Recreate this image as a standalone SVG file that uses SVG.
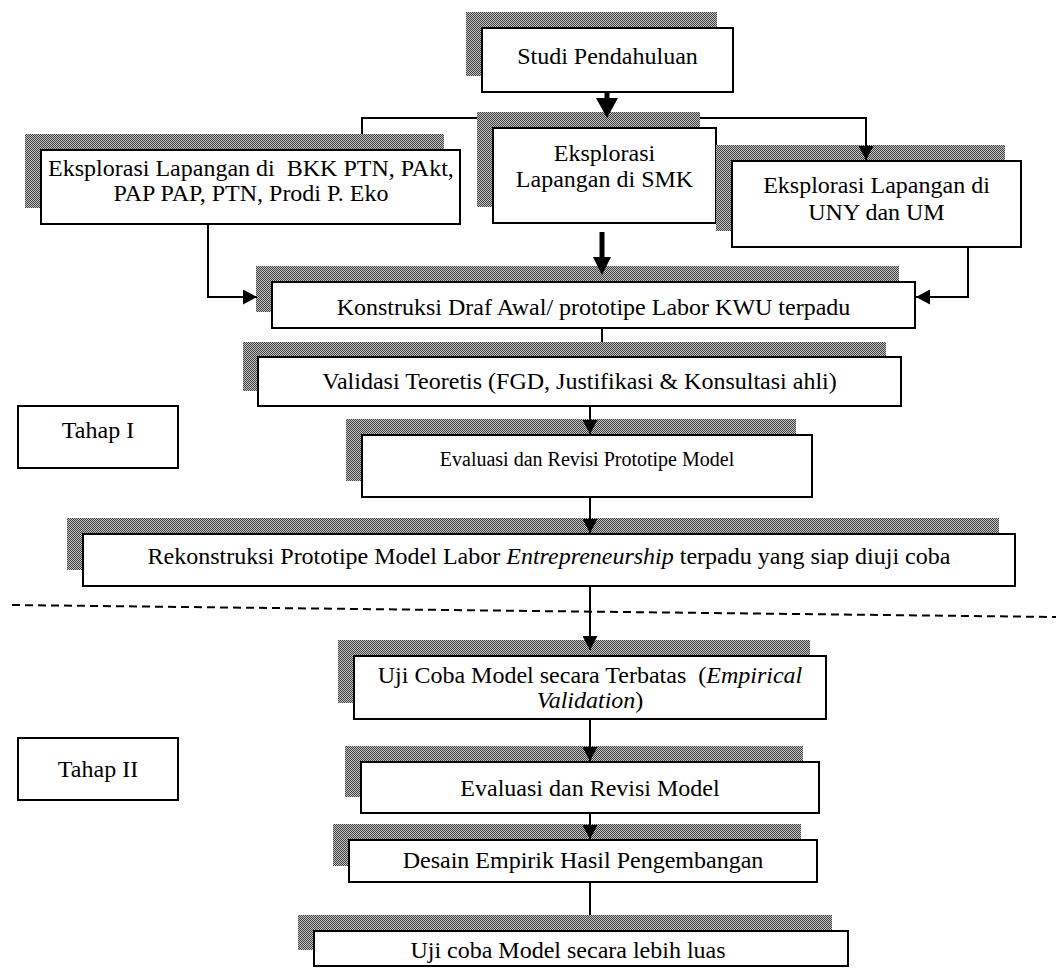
<svg xmlns="http://www.w3.org/2000/svg" width="1058" height="969" viewBox="0 0 1058 969">
<defs>
<pattern id="dots" width="2" height="2" patternUnits="userSpaceOnUse">
<rect width="2" height="2" fill="#c4c4c4"/>
<rect width="1" height="1" fill="#404040"/>
<rect x="1" y="1" width="1" height="1" fill="#404040"/>
</pattern>
<marker id="ah" markerUnits="userSpaceOnUse" markerWidth="15" markerHeight="15" refX="14" refY="7.5" orient="auto">
<path d="M0,0 L14,7.5 L0,15 Z" fill="#000"/>
</marker>
</defs>
<style>
.sh{fill:url(#dots);}
.bx{fill:#fff;stroke:#000;stroke-width:2;}
.t{font-family:"Liberation Serif","Times New Roman",serif;font-size:24px;fill:#000;text-anchor:middle;white-space:pre;}
.s{font-size:20px;}
.ln{fill:none;stroke:#000;stroke-width:2;}
.dash{fill:none;stroke:#000;stroke-width:2;stroke-dasharray:8 5;}
</style>
<rect width="1058" height="969" fill="#fff"/>

<g id="studi">
<rect class="sh" x="466" y="12" width="251" height="64"/>
<rect class="bx" x="482" y="28" width="251" height="64"/>
<text class="t" x="607.5" y="64">Studi Pendahuluan</text>
</g>

<g id="eks-bkk">
<rect class="sh" x="25" y="134" width="419" height="74"/>
<rect class="bx" x="41" y="150" width="419" height="74"/>
<text class="t" x="251" y="176">Eksplorasi Lapangan di  BKK PTN, PAkt,</text>
<text class="t" x="251" y="201">PAP PAP, PTN, Prodi P. Eko</text>
</g>

<g id="eks-smk">
<rect class="sh" x="477" y="112" width="223" height="95"/>
<rect class="bx" x="493" y="128" width="223" height="95"/>
<text class="t" x="604.5" y="161">Eksplorasi</text>
<text class="t" x="604.5" y="187">Lapangan di SMK</text>
</g>

<g id="eks-uny">
<rect class="sh" x="716" y="145" width="289" height="86"/>
<rect class="bx" x="732" y="161" width="289" height="86"/>
<text class="t" x="876.5" y="193">Eksplorasi Lapangan di</text>
<text class="t" x="876.5" y="220">UNY dan UM</text>
</g>

<g id="konstruksi">
<rect class="sh" x="256" y="266" width="643" height="46"/>
<rect class="bx" x="272" y="282" width="643" height="46"/>
<text class="t" x="593.5" y="315">Konstruksi Draf Awal/ prototipe Labor KWU terpadu</text>
</g>

<g id="validasi">
<rect class="sh" x="243" y="342" width="643" height="49"/>
<rect class="bx" x="258" y="357" width="643" height="49"/>
<text class="t" x="579.5" y="389">Validasi Teoretis (FGD, Justifikasi &amp; Konsultasi ahli)</text>
</g>

<g id="tahap1">
<rect class="bx" x="18" y="406" width="160" height="62"/>
<text class="t" x="98" y="438">Tahap I</text>
</g>

<g id="evaluasi-proto">
<rect class="sh" x="346" y="419" width="450" height="62"/>
<rect class="bx" x="362" y="435" width="450" height="62"/>
<text class="t s" x="587" y="466">Evaluasi dan Revisi Prototipe Model</text>
</g>

<g id="rekonstruksi">
<rect class="sh" x="67" y="518" width="932" height="52"/>
<rect class="bx" x="83" y="534" width="932" height="52"/>
<text class="t" x="549" y="564">Rekonstruksi Prototipe Model Labor <tspan font-style="italic">Entrepreneurship</tspan> terpadu yang siap diuji coba</text>
</g>

<g id="uji-terbatas">
<rect class="sh" x="338" y="640" width="472" height="63"/>
<rect class="bx" x="354" y="656" width="472" height="63"/>
<text class="t" x="590" y="683">Uji Coba Model secara Terbatas  (<tspan font-style="italic">Empirical</tspan></text>
<text class="t" x="590" y="708"><tspan font-style="italic">Validation</tspan>)</text>
</g>

<g id="evaluasi-model">
<rect class="sh" x="345" y="746" width="458" height="51"/>
<rect class="bx" x="361" y="762" width="458" height="51"/>
<text class="t" x="590" y="796">Evaluasi dan Revisi Model</text>
</g>

<g id="tahap2">
<rect class="bx" x="18" y="738" width="160" height="62"/>
<text class="t" x="98" y="777">Tahap II</text>
</g>

<g id="desain">
<rect class="sh" x="333" y="824" width="468" height="42"/>
<rect class="bx" x="349" y="840" width="468" height="42"/>
<text class="t" x="583" y="868">Desain Empirik Hasil Pengembangan</text>
</g>

<g id="uji-luas">
<rect class="sh" x="298" y="915" width="534" height="35"/>
<rect class="bx" x="314" y="931" width="534" height="35"/>
<text class="t" x="568" y="958">Uji coba Model secara lebih luas</text>
</g>

<g id="connectors">
<rect x="604.5" y="92" width="5" height="7" fill="#000"/>
<polygon points="596,98 618,98 607,118" fill="#000"/>
<path class="ln" d="M362,134 V118 H477"/>
<path class="ln" d="M700,118 H866 V160" marker-end="url(#ah)"/>
<path class="ln" d="M208,224 V297 H257" marker-end="url(#ah)"/>
<path class="ln" d="M968,247 V297 H916" marker-end="url(#ah)"/>
<rect x="599.5" y="232" width="5" height="26" fill="#000"/>
<polygon points="593,257 611,257 602,275" fill="#000"/>
<path class="ln" d="M602,328 V342"/>
<path class="ln" d="M590,406 V434" marker-end="url(#ah)"/>
<path class="ln" d="M590,497 V533" marker-end="url(#ah)"/>
<path class="ln" d="M590,586 V650" marker-end="url(#ah)"/>
<path class="ln" d="M590,719 V761" marker-end="url(#ah)"/>
<path class="ln" d="M590,813 V839" marker-end="url(#ah)"/>
<path class="ln" d="M590,882 V915"/>
<path class="dash" d="M12,605 L1056,617"/>
</g>
</svg>
